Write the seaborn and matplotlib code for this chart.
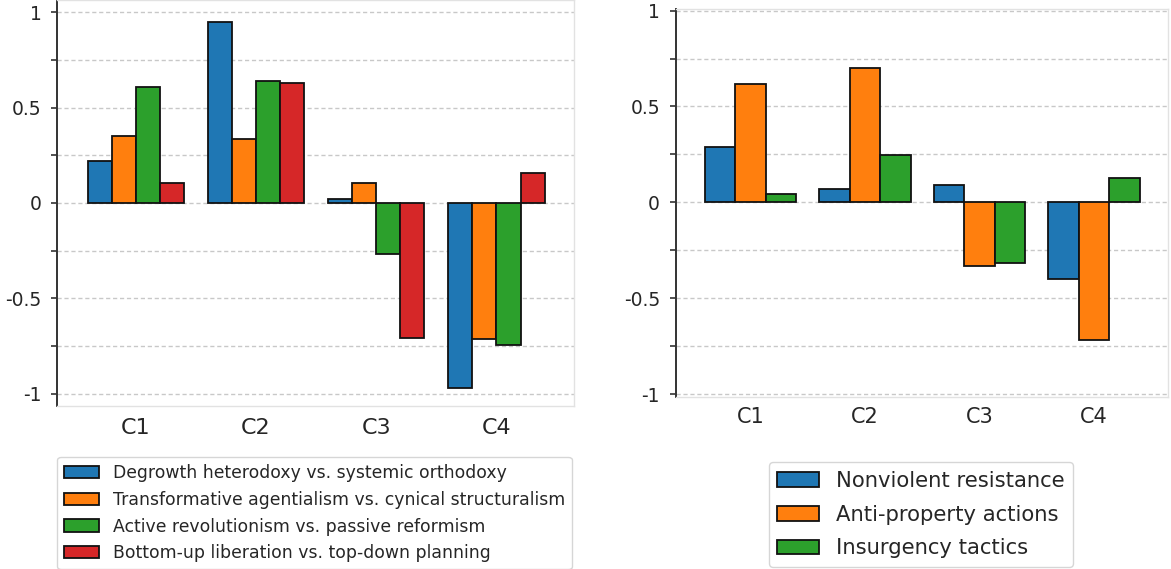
# 두 패널 막대그래프: 클러스터별 차원 점수(왼쪽)와 행동 유형 점수(오른쪽)

import numpy as np
import pandas as pd
import matplotlib
matplotlib.use("Agg")
import matplotlib.pyplot as plt
import seaborn as sns

CLUSTERS = ["C1", "C2", "C3", "C4"]

DIMS = ["Degrowth heterodoxy vs. systemic orthodoxy",
        "Transformative agentialism vs. cynical structuralism",
        "Active revolutionism vs. passive reformism",
        "Bottom-up liberation vs. top-down planning"]
degrowth = [0.22, 0.95, 0.02, -0.97]
agentialism = [0.35, 0.335, 0.105, -0.715]
revolutionism = [0.61, 0.64, -0.265, -0.745]
liberation = [0.105, 0.63, -0.71, 0.155]

TACTICS = ["Nonviolent resistance", "Anti-property actions", "Insurgency tactics"]
nonviolent = [0.29, 0.07, 0.09, -0.40]
anti_property = [0.615, 0.70, -0.33, -0.72]
insurgency = [0.043, 0.247, -0.315, 0.125]

YTICKS = [-1, -0.75, -0.5, -0.25, 0, 0.25, 0.5, 0.75, 1]
YLABELS = ["-1", "", "-0.5", "", "0", "", "0.5", "", "1"]

COLORS = ["#1f77b4", "#ff7f0e", "#2ca02c", "#d62728"]

sns.set_style("white")
plt.rcParams["font.family"] = ["DejaVu Sans"]
plt.rcParams["text.color"] = "#262626"
plt.rcParams["axes.unicode_minus"] = False


def long_df(names, series):
    rows = []
    for name, vals in zip(names, series):
        for c, v in zip(CLUSTERS, vals):
            rows.append({"cluster": c, "value": v, "group": name})
    return pd.DataFrame(rows)


def draw(ax, df, names, ylim, xfs, xpad):
    sns.barplot(data=df, x="cluster", y="value", hue="group", hue_order=names,
                order=CLUSTERS, palette=COLORS[:len(names)], errorbar=None,
                edgecolor="#111111", linewidth=1.3, saturation=1, width=0.8, ax=ax)
    ax.set_xlim(-0.65, 3.645)
    ax.set_ylim(*ylim)
    ax.set_yticks(YTICKS)
    ax.set_yticklabels(YLABELS)
    ax.set_xlabel("")
    ax.set_ylabel("")
    ax.set_axisbelow(True)
    ax.yaxis.grid(True, linestyle=(0, (3, 2)), color="#c8c8c8", linewidth=1)
    ax.xaxis.grid(False)
    ax.tick_params(axis="y", labelsize=13.5, length=4.5, width=1.2,
                   color="#333333", pad=7, left=True, labelcolor="#262626")
    ax.tick_params(axis="x", labelsize=xfs, length=0, pad=xpad, labelcolor="#262626")
    ax.spines["left"].set_color("#333333")
    ax.spines["left"].set_linewidth(1.4)
    for s in ["top", "right", "bottom"]:
        ax.spines[s].set_color("#e2e2e2")
        ax.spines[s].set_linewidth(1)
    if ax.get_legend() is not None:
        ax.get_legend().remove()


fig = plt.figure(figsize=(11.71, 5.69), dpi=100)
ax1 = fig.add_axes([0.0491, 0.2865, 0.4411, 0.7135])
ax2 = fig.add_axes([0.5773, 0.3023, 0.4202, 0.6814])

df1 = long_df(DIMS, [degrowth, agentialism, revolutionism, liberation])
df2 = long_df(TACTICS, [nonviolent, anti_property, insurgency])

draw(ax1, df1, DIMS, (-1.065, 1.065), 16, 8.5)
draw(ax2, df2, TACTICS, (-1.015, 1.007), 15, 7)

h1, l1 = ax1.get_legend_handles_labels()
ax1.legend(h1, l1, loc="upper left", bbox_to_anchor=(0, -0.125),
           borderaxespad=0, fontsize=12.4, labelspacing=0.52, frameon=True)
h2, l2 = ax2.get_legend_handles_labels()
ax2.legend(h2, l2, loc="upper center", bbox_to_anchor=(0.498, -0.168),
           borderaxespad=0, fontsize=15.2, labelspacing=0.66, frameon=True)

fig.savefig("out.png", dpi=100)
plt.close(fig)
